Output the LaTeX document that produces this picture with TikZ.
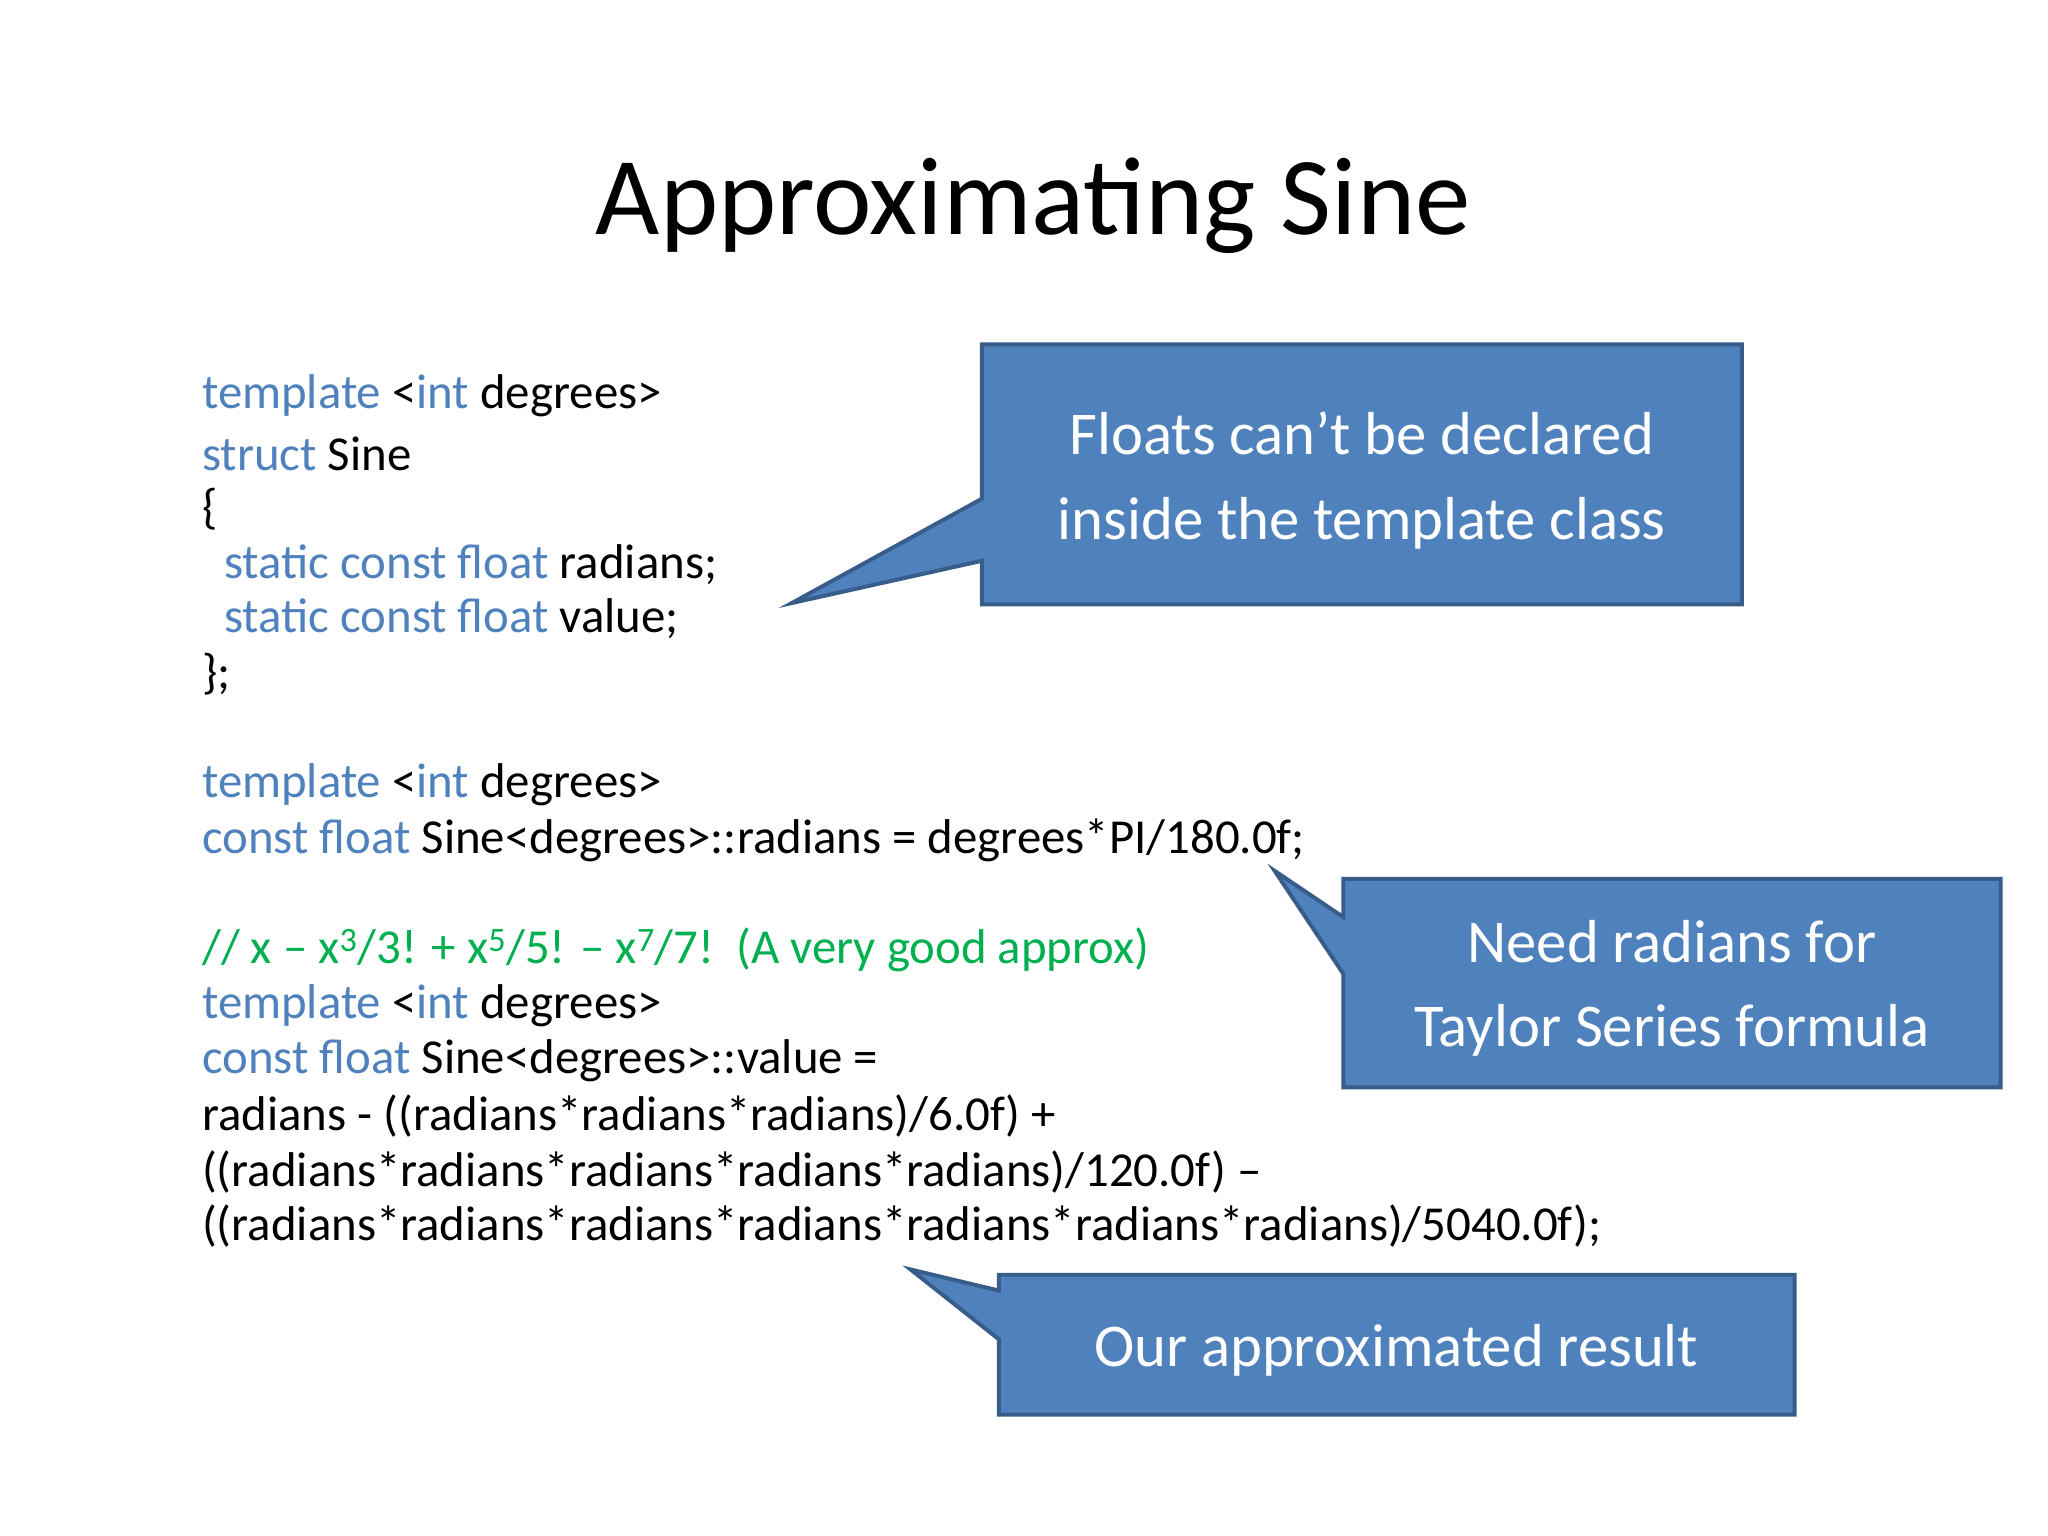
\documentclass[tikz,border=0pt]{standalone}
\usepackage{fontspec}
\setmainfont{Carlito}
\definecolor{kw}{HTML}{4F81BD}
\definecolor{cm}{HTML}{00B050}
\definecolor{cfill}{HTML}{4F81BD}
\definecolor{cline}{HTML}{385D8A}
\begin{document}
\begin{tikzpicture}[x=1pt,y=-1pt,
  code/.style={anchor=west,inner sep=0pt,font=\fontsize{37}{42}\selectfont},
  callout/.style={fill=cfill,draw=cline,line width=3pt,line join=miter},
  ctext/.style={text=white,align=center,font=\fontsize{46}{64}\selectfont}]
\useasboundingbox (0,0) rectangle (1552,1164);
\node[font=\fontsize{84}{90}\selectfont] (title) at (783,156) {Approximating Sine};
\newcommand{\K}[1]{\textcolor{kw}{#1}}
\node[code] (l1) at (153,300) {\K{template} <\K{int} degrees>};
\node[code] (l2) at (153,344) {\K{struct} Sine};
\node[code] (l3) at (153,386) {\{};
\node[code] (l4) at (153,428) {\ \ \K{static const float} radians;};
\node[code] (l5) at (153,469) {\ \ \K{static const float} value;};
\node[code] (l6) at (153,511) {\};};
\node[code] (l7) at (153,595) {\K{template} <\K{int} degrees>};
\node[code] (l8) at (153,637) {\K{const float} Sine<degrees>::radians = degrees*PI/180.0f;};
\node[code,text=cm] (l9) at (153,720) {// x – x\textsuperscript{3}/3! + x\textsuperscript{5}/5! – x\textsuperscript{7}/7!\ \ (A very good approx)};
\node[code] (l10) at (153,762) {\K{template} <\K{int} degrees>};
\node[code] (l11) at (153,804) {\K{const float} Sine<degrees>::value =};
\node[code] (l12) at (153,846) {radians - ((radians*radians*radians)/6.0f) +};
\node[code] (l13) at (153,888) {((radians*radians*radians*radians*radians)/120.0f) –};
\node[code] (l14) at (153,929) {((radians*radians*radians*radians*radians*radians*radians)/5040.0f);};
\draw[callout] (744,261)--(1320,261)--(1320,458)--(744,458)--(744,425)--(600,457)--(744,378)--cycle;
\node[ctext] (c1) at (1032,364) {Floats can’t be declared\\inside the template class};
\draw[callout] (1018,666)--(1516,666)--(1516,824)--(1018,824)--(1018,738)--(966,660)--(1018,695)--cycle;
\node[ctext] (c2) at (1267,749) {Need radians for\\Taylor Series formula};
\draw[callout] (757,966)--(1360,966)--(1360,1072)--(757,1072)--(757,1015)--(690,962)--(757,978)--cycle;
\node[ctext] (c3) at (1058,1023) {Our approximated result};
\end{tikzpicture}
\end{document}
